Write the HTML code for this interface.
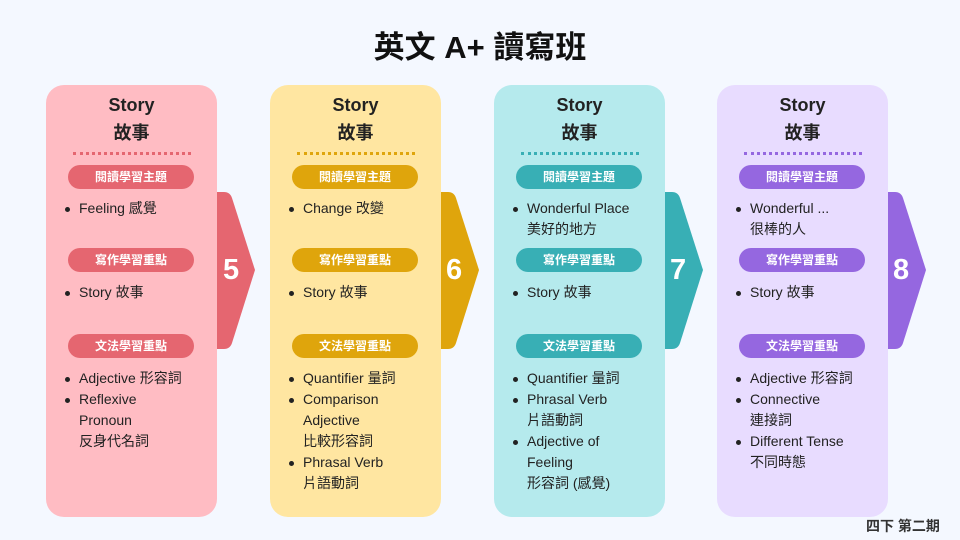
<!DOCTYPE html>
<html><head><meta charset="utf-8"><style>
*{margin:0;padding:0;box-sizing:border-box}
body{width:960px;height:540px;background:#f4f8ff;position:relative;overflow:hidden;font-family:"Liberation Sans","Noto Sans CJK TC",sans-serif;color:#222}
.t{position:absolute;white-space:nowrap}
.card{position:absolute;top:85px;width:171px;height:432px;border-radius:18px}
.h{position:absolute;left:0;width:171px;text-align:center;font-weight:bold;font-size:18px}
.dot{position:absolute;left:27px;top:67px;width:118px;border-top:3px dotted}
.pill{position:absolute;left:22px;width:126px;height:24px;border-radius:12px;color:#fff;font-weight:bold;font-size:12px;text-align:center;line-height:24px}
.li{position:absolute;left:33px;font-size:14px;line-height:21px;white-space:nowrap}
.li:before{content:"";position:absolute;left:-14px;top:9px;width:5px;height:5px;border-radius:50%;background:#222}
.c{position:absolute;left:33px;font-size:14px;line-height:21px;white-space:nowrap}
.arr{position:absolute;top:192px}
.num{position:absolute;top:254px;font-size:29px;font-weight:bold;color:#fff}
</style></head><body>
<div class="t" style="left:0;width:960px;text-align:center;top:22px;font-size:31px;font-weight:bold;color:#111">英文 A+ 讀寫班</div>
<div class="t" style="left:866px;top:516px;font-size:14px;font-weight:bold;color:#333">四下 第二期</div>

<svg class="arr" style="left:210px" width="50" height="158"><path d="M0 0H14Q20 0 22 6L45 78L22 151Q20 157 14 157H0Z" fill="#e56670"/></svg>
<div class="num" style="left:223px">5</div>
<svg class="arr" style="left:434px" width="50" height="158"><path d="M0 0H14Q20 0 22 6L45 78L22 151Q20 157 14 157H0Z" fill="#dfa50c"/></svg>
<div class="num" style="left:446px">6</div>
<svg class="arr" style="left:658px" width="50" height="158"><path d="M0 0H14Q20 0 22 6L45 78L22 151Q20 157 14 157H0Z" fill="#38afb5"/></svg>
<div class="num" style="left:670px">7</div>
<svg class="arr" style="left:881px" width="50" height="158"><path d="M0 0H14Q20 0 22 6L45 78L22 151Q20 157 14 157H0Z" fill="#9567e0"/></svg>
<div class="num" style="left:893px">8</div>

<div class="card" style="left:46px;background:#ffbcc3">
<div class="h" style="top:10px">Story</div><div class="h" style="top:34px">故事</div>
<div class="dot" style="border-color:#e56670"></div>
<div class="pill" style="top:80px;background:#e56670">閱讀學習主題</div>
<div class="li" style="top:113px">Feeling 感覺</div>
<div class="pill" style="top:163px;background:#e56670">寫作學習重點</div>
<div class="li" style="top:197px">Story 故事</div>
<div class="pill" style="top:249px;background:#e56670">文法學習重點</div>
<div class="li" style="top:283px">Adjective 形容詞</div>
<div class="li" style="top:304px">Reflexive</div>
<div class="c" style="top:325px">Pronoun</div>
<div class="c" style="top:346px">反身代名詞</div>
</div>

<div class="card" style="left:270px;background:#ffe6a1">
<div class="h" style="top:10px">Story</div><div class="h" style="top:34px">故事</div>
<div class="dot" style="border-color:#dfa50c"></div>
<div class="pill" style="top:80px;background:#dfa50c">閱讀學習主題</div>
<div class="li" style="top:113px">Change 改變</div>
<div class="pill" style="top:163px;background:#dfa50c">寫作學習重點</div>
<div class="li" style="top:197px">Story 故事</div>
<div class="pill" style="top:249px;background:#dfa50c">文法學習重點</div>
<div class="li" style="top:283px">Quantifier 量詞</div>
<div class="li" style="top:304px">Comparison</div>
<div class="c" style="top:325px">Adjective</div>
<div class="c" style="top:346px">比較形容詞</div>
<div class="li" style="top:367px">Phrasal Verb</div>
<div class="c" style="top:388px">片語動詞</div>
</div>

<div class="card" style="left:494px;background:#b5eaed">
<div class="h" style="top:10px">Story</div><div class="h" style="top:34px">故事</div>
<div class="dot" style="border-color:#38afb5"></div>
<div class="pill" style="top:80px;background:#38afb5">閱讀學習主題</div>
<div class="li" style="top:113px">Wonderful Place</div>
<div class="c" style="top:134px">美好的地方</div>
<div class="pill" style="top:163px;background:#38afb5">寫作學習重點</div>
<div class="li" style="top:197px">Story 故事</div>
<div class="pill" style="top:249px;background:#38afb5">文法學習重點</div>
<div class="li" style="top:283px">Quantifier 量詞</div>
<div class="li" style="top:304px">Phrasal Verb</div>
<div class="c" style="top:325px">片語動詞</div>
<div class="li" style="top:346px">Adjective of</div>
<div class="c" style="top:367px">Feeling</div>
<div class="c" style="top:388px">形容詞 (感覺)</div>
</div>

<div class="card" style="left:717px;background:#e8dcff">
<div class="h" style="top:10px">Story</div><div class="h" style="top:34px">故事</div>
<div class="dot" style="border-color:#9567e0"></div>
<div class="pill" style="top:80px;background:#9567e0">閱讀學習主題</div>
<div class="li" style="top:113px">Wonderful ...</div>
<div class="c" style="top:134px">很棒的人</div>
<div class="pill" style="top:163px;background:#9567e0">寫作學習重點</div>
<div class="li" style="top:197px">Story 故事</div>
<div class="pill" style="top:249px;background:#9567e0">文法學習重點</div>
<div class="li" style="top:283px">Adjective 形容詞</div>
<div class="li" style="top:304px">Connective</div>
<div class="c" style="top:325px">連接詞</div>
<div class="li" style="top:346px">Different Tense</div>
<div class="c" style="top:367px">不同時態</div>
</div>
</body></html>
